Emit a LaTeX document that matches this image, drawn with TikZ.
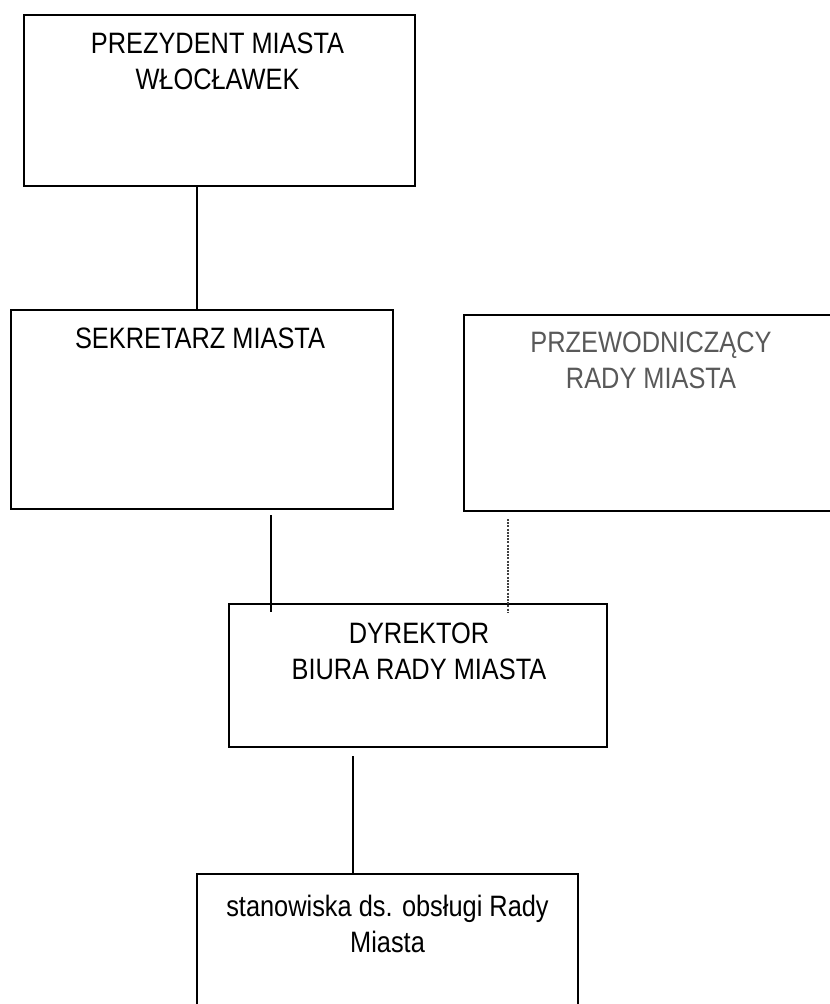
\documentclass[tikz,border=0pt]{standalone}
\usepackage{fontspec}
\setmainfont[FakeStretch=0.86]{Liberation Sans}
\begin{document}
\begin{tikzpicture}[x=1bp,y=-1bp,
  box/.style={draw, line width=1.8bp, inner sep=0pt, outer sep=0pt, anchor=north west},
  lbl/.style={anchor=north, inner sep=0pt, align=center, font=\fontsize{29.5bp}{36bp}\selectfont},
  conn/.style={line width=1.4bp},
  dconn/.style={line width=1.2bp, black!75, dash pattern=on 2bp off 1.2bp}]
\useasboundingbox (0,0) rectangle (830,1004);
\clip (0,0) rectangle (830,1004);
\fill[white] (0,0) rectangle (830,1004);
% boxes
\node[box, minimum width=391bp, minimum height=171bp] (prez) at (24,15) {};
\node[box, minimum width=382bp, minimum height=199bp] (sek) at (11,310) {};
\node[box, minimum width=386bp, minimum height=196bp] (prz) at (464,315) {};
\node[box, minimum width=378bp, minimum height=143bp] (dyr) at (229,604) {};
\node[box, minimum width=381bp, minimum height=160bp] (stan) at (197,874) {};
% labels
\node[lbl] (prezT) at (217.5,33) {PREZYDENT MIASTA\\WŁOCŁAWEK};
\node[lbl] (sekT) at (200,328) {SEKRETARZ MIASTA};
\node[lbl, text=black!65] (przT) at (651,332) {PRZEWODNICZĄCY\\RADY MIASTA};
\node[lbl] (dyrT) at (419,623) {DYREKTOR\\BIURA RADY MIASTA};
\node[lbl] (stanT) at (387.5,895) {stanowiska ds. obsługi Rady\\Miasta};
% connectors
\coordinate (x1) at (197,0);
\draw[conn] (prez.south -| x1) -- (sek.north -| x1);
\coordinate (s2a) at (271,515);
\coordinate (s2b) at (271,612);
\draw[conn] (s2a) -- (s2b);
\coordinate (d3a) at (508,519);
\coordinate (d3b) at (508,613);
\draw[dconn] (d3a) -- (d3b);
\coordinate (s4a) at (353,756);
\draw[conn] (s4a) -- (stan.north -| s4a);
\end{tikzpicture}
\end{document}
